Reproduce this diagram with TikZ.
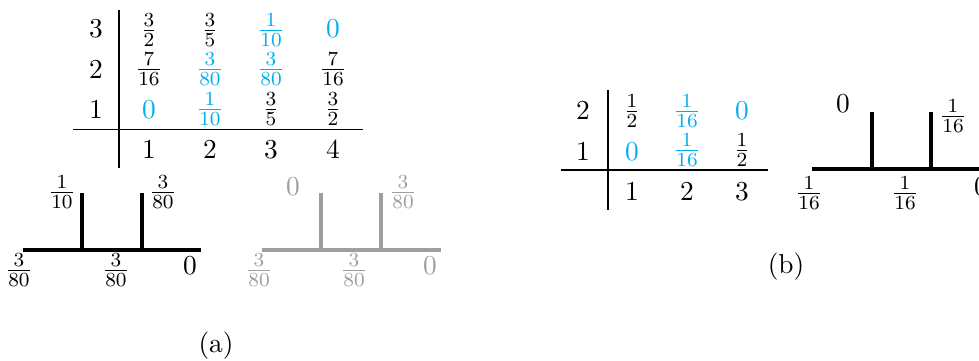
\documentclass[tikz,border=0pt]{standalone}
\definecolor{fblue}{RGB}{0,174,239}
\definecolor{tgray}{RGB}{158,158,158}
\begin{document}
\begin{tikzpicture}[x=0.4pt,y=-0.4pt,
  font=\fontsize{10.95}{13.6}\selectfont,
  lbl/.style={inner sep=0pt},
  bl/.style={lbl,text=fblue},
  gl/.style={lbl,text=tgray},
  tabline/.style={line width=0.5pt},
  treeline/.style={line width=1.6pt},
  graytree/.style={treeline,draw=tgray}]
\useasboundingbox (0,0) rectangle (979,360);
% ---------- table (a)
\draw[tabline] (119,10) -- (119,168);
\draw[tabline] (73,129.5) -- (363,129.5);
\node[lbl] (ar3) at (96,29) {$3$};
\node[lbl] (ar2) at (96,70) {$2$};
\node[lbl] (ar1) at (96,110) {$1$};
\node[lbl] (a31) at (149,30) {$\frac{3}{2}$};
\node[lbl] (a32) at (210,30) {$\frac{3}{5}$};
\node[bl]  (a33) at (271,30) {$\frac{1}{10}$};
\node[bl]  (a34) at (333,29) {$0$};
\node[lbl] (a21) at (149,69) {$\frac{7}{16}$};
\node[bl]  (a22) at (210,69) {$\frac{3}{80}$};
\node[bl]  (a23) at (271,69) {$\frac{3}{80}$};
\node[lbl] (a24) at (333,69) {$\frac{7}{16}$};
\node[bl]  (a11) at (149,110) {$0$};
\node[bl]  (a12) at (210,109) {$\frac{1}{10}$};
\node[lbl] (a13) at (271,109) {$\frac{3}{5}$};
\node[lbl] (a14) at (333,109) {$\frac{3}{2}$};
\node[lbl] (ac1) at (149,150) {$1$};
\node[lbl] (ac2) at (210,150) {$2$};
\node[lbl] (ac3) at (271,150) {$3$};
\node[lbl] (ac4) at (333,150) {$4$};
% ---------- black tree (a)
\draw[treeline] (23,250) -- (201,250);
\draw[treeline] (82,193) -- (82,250);
\draw[treeline] (142,193) -- (142,250);
\node[lbl] (ta1) at (62,192) {$\frac{1}{10}$};
\node[lbl] (ta2) at (163,192) {$\frac{3}{80}$};
\node[lbl] (ta3) at (19,270) {$\frac{3}{80}$};
\node[lbl] (ta4) at (116,270) {$\frac{3}{80}$};
\node[lbl] (ta5) at (190,266) {$0$};
% ---------- gray tree (a)
\draw[graytree] (262,250) -- (441,250);
\draw[graytree] (321,193) -- (321,250);
\draw[graytree] (381,193) -- (381,250);
\node[gl] (tg1) at (293,187) {$0$};
\node[gl] (tg2) at (403,192) {$\frac{3}{80}$};
\node[gl] (tg3) at (259,270) {$\frac{3}{80}$};
\node[gl] (tg4) at (354,270) {$\frac{3}{80}$};
\node[gl] (tg5) at (430,266) {$0$};
\node[lbl] (capa) at (216,346) {(a)};
% ---------- table (b)
\draw[tabline] (608,90) -- (608,210);
\draw[tabline] (561,170) -- (768,170);
\node[lbl] (br2) at (583,111) {$2$};
\node[lbl] (br1) at (583,152) {$1$};
\node[lbl] (b21) at (632,111) {$\frac{1}{2}$};
\node[bl]  (b22) at (687,111) {$\frac{1}{16}$};
\node[bl]  (b23) at (742,111) {$0$};
\node[bl]  (b11) at (632,152) {$0$};
\node[bl]  (b12) at (687,150) {$\frac{1}{16}$};
\node[lbl] (b13) at (742,150) {$\frac{1}{2}$};
\node[lbl] (bc1) at (632,192) {$1$};
\node[lbl] (bc2) at (687,192) {$2$};
\node[lbl] (bc3) at (742,192) {$3$};
% ---------- tree (b)
\draw[treeline] (812,169) -- (990,169);
\draw[treeline] (872,112) -- (872,169);
\draw[treeline] (931,112) -- (931,169);
\node[lbl] (tb1) at (843,104) {$0$};
\node[lbl] (tb2) at (953,116) {$\frac{1}{16}$};
\node[lbl] (tb3) at (809,193) {$\frac{1}{16}$};
\node[lbl] (tb4) at (905,193) {$\frac{1}{16}$};
\node[lbl] (tb5) at (981,187) {$0$};
\node[lbl] (capb) at (786,267) {(b)};
\end{tikzpicture}
\end{document}
